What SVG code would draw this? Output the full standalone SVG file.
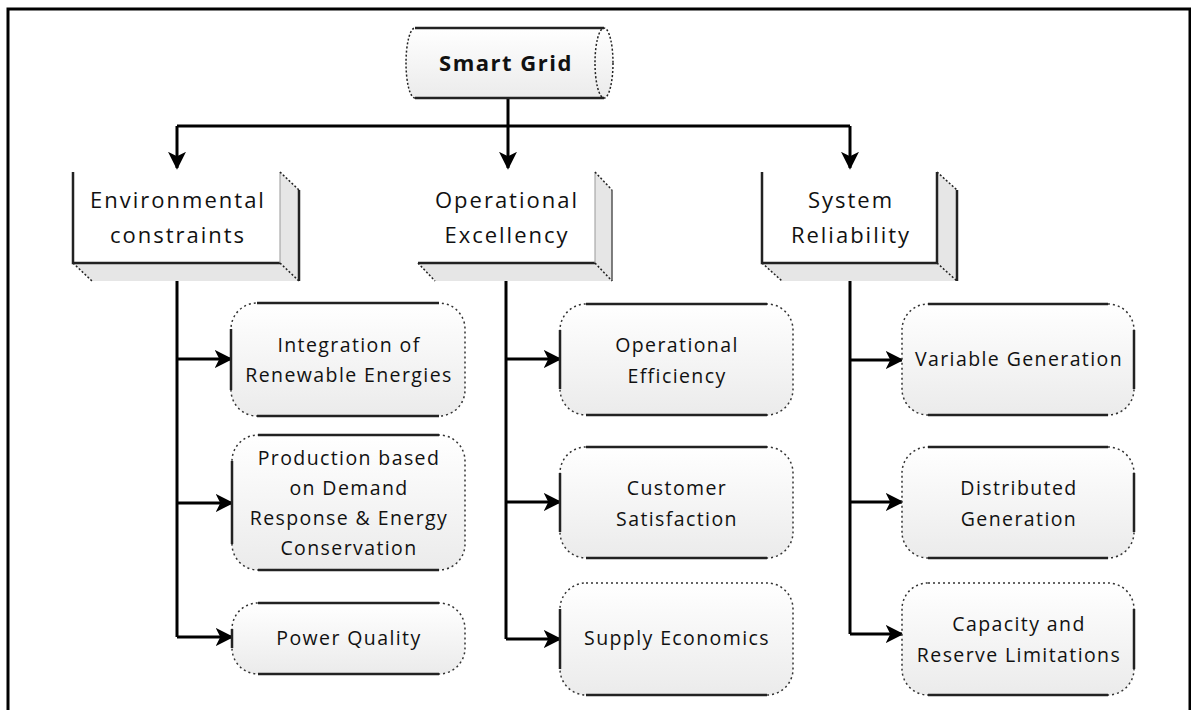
<svg xmlns="http://www.w3.org/2000/svg" width="1191" height="710" viewBox="0 0 1191 710">
<defs>
<linearGradient id="g" x1="0" y1="0" x2="0" y2="1">
<stop offset="0" stop-color="#ffffff"/>
<stop offset="1" stop-color="#ebebeb"/>
</linearGradient>
<marker id="ah" viewBox="0 0 10 10" refX="9" refY="5" markerWidth="6" markerHeight="6" markerUnits="strokeWidth" orient="auto">
<path d="M0,0 L10,5 L0,10 L2.5,5 Z" fill="#000"/>
</marker>
<style>
text{font-family:"Open Sans","Liberation Sans",sans-serif;fill:#111;text-anchor:middle}
.hd{font-size:22px;letter-spacing:2px}
.ch{font-size:19.5px;letter-spacing:1.4px}
.c{fill:none;stroke:#000;stroke-width:3}
.a{fill:none;stroke:#000;stroke-width:3;marker-end:url(#ah)}
.box{fill:url(#g);stroke:#333;stroke-width:1.5;stroke-dasharray:2 3}
.edge{stroke:#222;stroke-width:2.5;fill:none}
.side{fill:#e6e6e6;stroke:none}
.dot{stroke:#222;stroke-width:1.5;stroke-dasharray:2 2;fill:none}
</style>
</defs>
<g id="frame">
<polyline points="8,710 8,9 1190,9 1190,710" fill="none" stroke="#000" stroke-width="3"/>
</g>
<g id="connectors">
<polyline class="c" points="508,98 508,126"/>
<polyline class="c" points="177,126 850,126"/>
<polyline class="a" points="177,126 177,168"/>
<polyline class="a" points="508,126 508,168"/>
<polyline class="a" points="850,126 850,168"/>
<polyline class="c" points="177,281 177,637"/>
<polyline class="a" points="177,359 231,359"/>
<polyline class="a" points="177,503 232,503"/>
<polyline class="a" points="177,637 232,637"/>
<polyline class="c" points="506,281 506,639"/>
<polyline class="a" points="506,359 560,359"/>
<polyline class="a" points="506,502 560,502"/>
<polyline class="a" points="506,639 560,639"/>
<polyline class="c" points="850,281 850,634"/>
<polyline class="a" points="850,360 902,360"/>
<polyline class="a" points="850,502 902,502"/>
<polyline class="a" points="850,634 902,634"/>
</g>
<g id="smart-grid">
<path d="M415,28 L604,28 A9,35 0 0 1 604,98 L415,98 A9,35 0 0 1 415,28 Z" fill="url(#g)" stroke="none"/>
<path d="M415,98 A9,35 0 0 1 415,28" class="dot"/>
<ellipse cx="604" cy="63" rx="9" ry="35" class="dot"/>
<line x1="415" y1="28" x2="604" y2="28" class="edge"/>
<line x1="415" y1="98" x2="604" y2="98" class="edge"/>
<text x="506" y="71" style="font-size:22px;font-weight:bold;letter-spacing:1.5px">Smart Grid</text>
</g>
<g id="environmental">
<polygon class="side" points="280,172 299,190 299,281 280,263"/>
<polygon class="side" points="73,263 280,263 299,281 92,281"/>
<rect x="73" y="172" width="207" height="91" fill="#fff"/>
<polyline class="edge" points="73,172 73,263 280,263"/>
<line x1="280" y1="172" x2="280" y2="263" stroke="#999" stroke-width="1"/>
<line x1="299" y1="190" x2="299" y2="281" class="edge"/>
<line x1="280" y1="172" x2="299" y2="190" class="dot"/>
<line x1="73" y1="263" x2="92" y2="281" class="dot"/>
<line x1="280" y1="263" x2="299" y2="281" class="dot"/>
<text class="hd" x="178" y="208">Environmental</text>
<text class="hd" x="178" y="243">constraints</text>
</g>
<g id="operational">
<polygon class="side" points="595,172 612,190 612,281 595,263"/>
<polygon class="side" points="418,263 595,263 612,281 435,281"/>
<rect x="418" y="172" width="177" height="91" fill="#fff"/>
<line x1="418" y1="263" x2="595" y2="263" class="edge"/>
<line x1="595" y1="172" x2="595" y2="263" stroke="#999" stroke-width="1"/>
<line x1="612" y1="190" x2="612" y2="281" stroke="#555" stroke-width="1.5"/>
<line x1="595" y1="172" x2="612" y2="190" class="dot"/>
<line x1="418" y1="263" x2="435" y2="281" class="dot"/>
<line x1="595" y1="263" x2="612" y2="281" class="dot"/>
<text class="hd" x="507" y="208">Operational</text>
<text class="hd" x="507" y="243">Excellency</text>
</g>
<g id="system">
<polygon class="side" points="937,172 957,190 957,281 937,263"/>
<polygon class="side" points="762,263 937,263 957,281 782,281"/>
<rect x="762" y="172" width="175" height="91" fill="#fff"/>
<polyline class="edge" points="762,172 762,263 937,263"/>
<line x1="937" y1="172" x2="937" y2="263" class="edge"/>
<line x1="957" y1="190" x2="957" y2="281" class="edge"/>
<line x1="937" y1="172" x2="957" y2="190" class="dot"/>
<line x1="762" y1="263" x2="782" y2="281" class="dot"/>
<line x1="937" y1="263" x2="957" y2="281" class="dot"/>
<text class="hd" x="851" y="208">System</text>
<text class="hd" x="851" y="243">Reliability</text>
</g>
<g id="integration">
<rect class="box" x="231" y="303" width="234" height="113" rx="26"/>
<path class="edge" d="M257,303 H439 M231,329 V390 M257,416 H439"/>
<text class="ch" x="349" y="352">Integration of</text>
<text class="ch" x="349" y="382">Renewable Energies</text>
</g>
<g id="production">
<rect class="box" x="232" y="435" width="233" height="135" rx="26"/>
<path class="edge" d="M258,435 H439 M232,461 V544 M258,570 H439"/>
<text class="ch" x="349" y="465">Production based</text>
<text class="ch" x="349" y="495">on Demand</text>
<text class="ch" x="349" y="525">Response &amp; Energy</text>
<text class="ch" x="349" y="555">Conservation</text>
</g>
<g id="power-quality">
<rect class="box" x="232" y="603" width="233" height="71" rx="26"/>
<path class="edge" d="M258,603 H439 M232,629 V648 M258,674 H439" stroke-width="1.5"/>
<text class="ch" x="349" y="645">Power Quality</text>
</g>
<g id="op-efficiency">
<rect class="box" x="560" y="304" width="233" height="111" rx="26"/>
<path class="edge" d="M586,304 H767 M560,330 V389 M586,415 H767"/>
<text class="ch" x="677" y="352">Operational</text>
<text class="ch" x="677" y="383">Efficiency</text>
</g>
<g id="customer">
<rect class="box" x="560" y="447" width="233" height="111" rx="26"/>
<path class="edge" d="M586,447 H767 M560,473 V532 M586,558 H767"/>
<text class="ch" x="677" y="495">Customer</text>
<text class="ch" x="677" y="526">Satisfaction</text>
</g>
<g id="supply">
<rect class="box" x="560" y="583" width="233" height="112" rx="26"/>
<path class="edge" d="M560,609 V669 M586,695 H767"/>
<text class="ch" x="677" y="645">Supply Economics</text>
</g>
<g id="variable">
<rect class="box" x="902" y="304" width="232" height="111" rx="26"/>
<path class="edge" d="M928,304 H1108 M1134,330 V389 M928,415 H1108"/>
<text class="ch" x="1019" y="366">Variable Generation</text>
</g>
<g id="distributed">
<rect class="box" x="902" y="447" width="232" height="111" rx="26"/>
<path class="edge" d="M928,447 H1108 M1134,473 V532 M928,558 H1108"/>
<text class="ch" x="1019" y="495">Distributed</text>
<text class="ch" x="1019" y="526">Generation</text>
</g>
<g id="capacity">
<rect class="box" x="902" y="583" width="232" height="112" rx="26"/>
<path class="edge" d="M1134,609 V669 M928,695 H1108"/>
<text class="ch" x="1019" y="631">Capacity and</text>
<text class="ch" x="1019" y="662">Reserve Limitations</text>
</g>
</svg>
